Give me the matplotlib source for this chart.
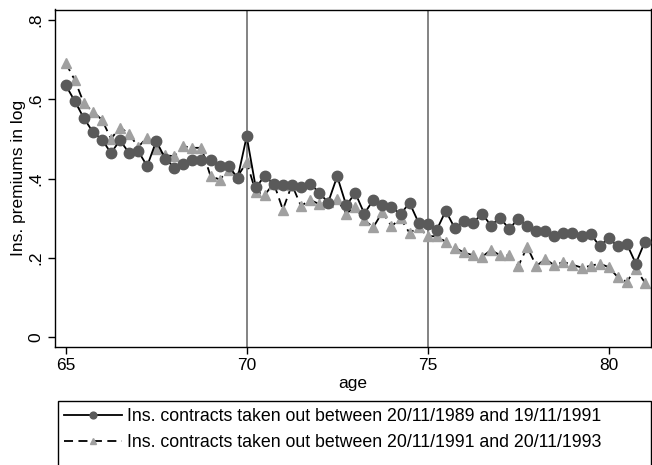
import matplotlib as mpl
from matplotlib import pyplot as plt
from matplotlib.patches import Rectangle
import numpy as np

mpl.rcParams['font.family'] = ['Liberation Sans', 'DejaVu Sans']

# ===================== Data =====================
age = [65 + 0.25 * i for i in range(65)]

prem_89_91 = [
    0.636, 0.596, 0.553, 0.518, 0.499, 0.465, 0.497, 0.465, 0.470, 0.432,
    0.495, 0.451, 0.428, 0.437, 0.447, 0.447, 0.447, 0.432, 0.432, 0.402,
    0.507, 0.378, 0.407, 0.386, 0.384, 0.384, 0.378, 0.388, 0.365, 0.340,
    0.406, 0.333, 0.364, 0.312, 0.347, 0.333, 0.328, 0.311, 0.339, 0.289,
    0.286, 0.271, 0.319, 0.275, 0.293, 0.288, 0.312, 0.282, 0.302, 0.273,
    0.299, 0.281, 0.269, 0.269, 0.255, 0.262, 0.262, 0.255, 0.261, 0.230,
    0.250, 0.230, 0.236, 0.186, 0.241,
]

prem_91_93 = [
    0.692, 0.649, 0.591, 0.569, 0.549, 0.501, 0.529, 0.514, 0.480, 0.504,
    0.474, 0.459, 0.457, 0.482, 0.478, 0.478, 0.407, 0.398, 0.421, 0.406,
    0.442, 0.367, 0.360, 0.388, 0.322, 0.385, 0.331, 0.347, 0.336, 0.341,
    0.348, 0.312, 0.329, 0.295, 0.278, 0.316, 0.280, 0.300, 0.263, 0.278,
    0.255, 0.255, 0.241, 0.226, 0.214, 0.207, 0.203, 0.220, 0.207, 0.207,
    0.179, 0.228, 0.180, 0.197, 0.182, 0.190, 0.183, 0.176, 0.180, 0.186,
    0.177, 0.152, 0.140, 0.173, 0.138,
]

labels = [
    "Ins. contracts taken out between 20/11/1989 and 19/11/1991",
    "Ins. contracts taken out between 20/11/1991 and 20/11/1993",
]
x_ticks = [65, 70, 75, 80]
y_ticks = [0, 0.2, 0.4, 0.6, 0.8]
y_ticklabels = ["0", ".2", ".4", ".6", ".8"]
vlines = [70, 75]

FS = 12.5

# ===================== Figure =====================
W, H = 652, 465
fig = plt.figure(figsize=(W / 100, H / 100), dpi=100)
ax = fig.add_axes([54.5 / W, 1 - 347 / H, (651 - 54.5) / W, (347 - 9.5) / H])

for v in vlines:
    ax.axvline(v, color='#7a7a7a', lw=1.3, zorder=1)

ax.plot(age, prem_89_91, color='black', lw=1.3, marker='o', ms=7.5,
        mfc='#5a5a5a', mec='#5a5a5a', label=labels[0], zorder=3)
ax.plot(age, prem_91_93, color='black', lw=1.3, ls=(0, (5, 3)), marker='^',
        ms=7.5, mfc='#a0a0a0', mec='#a0a0a0', label=labels[1], zorder=2)

ax.set_xlim(64.69, 81.17)
ax.set_ylim(-0.0245, 0.827)
ax.set_xticks(x_ticks)
ax.set_yticks(y_ticks)
ax.set_yticklabels(y_ticklabels, rotation=90, va='center')
ax.tick_params(direction='out', length=5, width=1, labelsize=FS, colors='black', pad=3)
ax.set_xlabel("age", fontsize=FS, labelpad=2)
ax.set_ylabel("Ins. premiums in log", fontsize=FS, labelpad=2)
for s in ax.spines.values():
    s.set_color('black')
    s.set_linewidth(1)

# legend box runs past the bottom edge, as in the original
fig.patches.append(Rectangle((58 / W, -0.1), (650.5 - 58) / W, 0.1 + 1 - 401 / H,
                             transform=fig.transFigure, fill=False,
                             ec='black', lw=1, clip_on=False))
fig.legend(loc='upper left', bbox_to_anchor=(62 / W, 1 - 406 / H),
           fontsize=12.8, handlelength=3.3, handletextpad=0.25,
           labelspacing=0.52, borderpad=0.1, borderaxespad=0, frameon=False,
           markerscale=0.65)

fig.savefig("out.png", dpi=100)
